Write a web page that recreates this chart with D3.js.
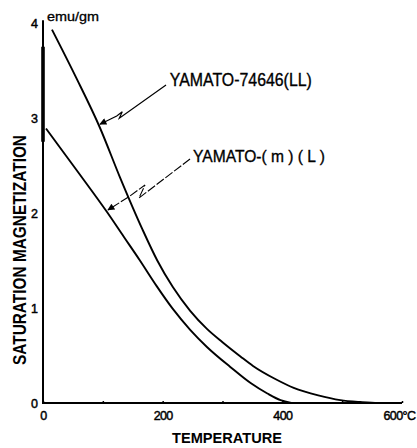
<!DOCTYPE html>
<html><head><meta charset="utf-8">
<script src="https://cdn.jsdelivr.net/npm/d3@7"></script>
<style>
html,body{margin:0;padding:0;background:#fff;}
svg{display:block;}
text{font-family:"Liberation Sans",Arial,sans-serif;fill:#000;}
</style></head>
<body>
<script>
// ---- data ----
const xTickValues = [0, 100, 200, 300, 400, 500, 600];
const xTickLabels = ["0", "", "200", "", "400", "", "600°C"];
const yTickValues = [0, 1, 2, 3, 4];
const yTickLabels = ["0", "1", "2", "3", "4"];

const llTemp = [15, 55, 95, 129, 166, 191, 217, 246, 274, 300, 330, 351, 389, 419, 460, 497, 530, 560, 600];
const llMag  = [3.93, 3.43, 2.9, 2.37, 1.83, 1.5, 1.22, 0.97, 0.78, 0.64, 0.49, 0.39, 0.25, 0.16, 0.08, 0.03, 0.01, 0, 0];

const lTemp = [5, 40, 75, 107, 135, 162, 190, 217, 246, 274, 313, 347, 375, 397, 415];
const lMag  = [2.89, 2.59, 2.29, 2.01, 1.75, 1.5, 1.23, 0.99, 0.77, 0.59, 0.38, 0.21, 0.1, 0.03, 0];

// annotation leader paths (data units: temperature, magnetization)
const llArrowT = [205.6, 127.5, 132.5, 123.2, 95.3];
const llArrowM = [3.347, 2.997, 3.066, 3.021, 2.934];
const lArrowT  = [245.7, 160.4, 170.5, 145.4, 108.6];
const lArrowM  = [2.568, 2.158, 2.295, 2.179, 2.032];

const seriesNames = ["YAMATO-74646(LL)", "YAMATO-( m ) ( L )"];
const yTitle = "SATURATION  MAGNETIZATION";
const xTitle = "TEMPERATURE";
const yUnit = "emu/gm";
const thickAxisRange = [2.75, 3.75];

// ---- chart ----
const W = 417, H = 448;
const svg = d3.select("body").append("svg").attr("width", W).attr("height", H);

const x = d3.scaleLinear().domain([0, 600]).range([43, 402]);
const y = d3.scaleLinear().domain([0, 4]).range([403, 23]);

// axes
const xAxis = d3.axisBottom(x).tickValues(xTickValues)
  .tickFormat((d, i) => xTickLabels[i]).tickSize(-2).tickPadding(8);
const gx = svg.append("g").attr("transform", `translate(0,${y(0)})`).call(xAxis);
gx.select(".domain").attr("d", `M${x(0)},0H${x(600)}`).attr("stroke", "#000").attr("stroke-width", 2);
gx.selectAll(".tick line").attr("stroke", "#000").attr("stroke-width", 1.5);
gx.selectAll(".tick text").attr("font-size", 12.5).attr("fill", "#000")
  .attr("stroke", "#000").attr("stroke-width", 0.45)
  .attr("font-family", '"Liberation Sans",Arial,sans-serif').attr("letter-spacing", -0.6);
gx.selectAll(".tick").filter(d => d === 600).select("text")
  .attr("text-anchor", "start").attr("dx", -19);

const yAxis = d3.axisLeft(y).tickValues(yTickValues)
  .tickFormat((d, i) => yTickLabels[i]).tickSize(0).tickPadding(5);
const gy = svg.append("g").attr("transform", `translate(${x(0)},0)`).call(yAxis);
gy.select(".domain").attr("d", `M0,${y(4.03)}V${y(0) + 1}`).attr("stroke", "#000").attr("stroke-width", 2);
gy.selectAll(".tick text").attr("font-size", 12.5).attr("fill", "#000")
  .attr("stroke", "#000").attr("stroke-width", 0.45)
  .attr("font-family", '"Liberation Sans",Arial,sans-serif');

// thickened part of the vertical axis
svg.append("line")
  .attr("x1", x(0)).attr("x2", x(0))
  .attr("y1", y(thickAxisRange[1])).attr("y2", y(thickAxisRange[0]))
  .attr("stroke", "#000").attr("stroke-width", 3.6);

// curves
const line = d3.line().x(d => x(d[0])).y(d => y(d[1])).curve(d3.curveMonotoneX);
svg.append("path").datum(llTemp.map((t, i) => [t, llMag[i]]))
  .attr("d", line).attr("fill", "none").attr("stroke", "#000").attr("stroke-width", 1.9);
svg.append("path").datum(lTemp.map((t, i) => [t, lMag[i]]))
  .attr("d", line).attr("fill", "none").attr("stroke", "#000").attr("stroke-width", 1.9);

// arrow marker
svg.append("defs").append("marker")
  .attr("id", "ah").attr("viewBox", "0 0 10 10").attr("refX", 9).attr("refY", 5)
  .attr("markerWidth", 9).attr("markerHeight", 7).attr("markerUnits", "userSpaceOnUse")
  .attr("orient", "auto")
  .append("path").attr("d", "M0,0L10,5L0,10z").attr("fill", "#000");

const straight = d3.line().x(d => x(d[0])).y(d => y(d[1]));
svg.append("path").datum(llArrowT.map((t, i) => [t, llArrowM[i]]))
  .attr("d", straight).attr("fill", "none").attr("stroke", "#000").attr("stroke-width", 1.2)
  .attr("marker-end", "url(#ah)");
svg.append("path").datum(lArrowT.map((t, i) => [t, lArrowM[i]]))
  .attr("d", straight).attr("fill", "none").attr("stroke", "#000").attr("stroke-width", 1.1)
  .attr("stroke-dasharray", "9,2").attr("marker-end", "url(#ah)");

// series labels
svg.append("text").attr("x", x(212)).attr("y", y(3.333))
  .attr("font-size", 18).attr("textLength", 142).attr("lengthAdjust", "spacingAndGlyphs")
  .attr("stroke", "#000").attr("stroke-width", 0.35)
  .text(seriesNames[0]);
svg.append("text").attr("x", x(250.7)).attr("y", y(2.537))
  .attr("font-size", 17).attr("textLength", 132).attr("lengthAdjust", "spacingAndGlyphs")
  .attr("stroke", "#000").attr("stroke-width", 0.35)
  .text(seriesNames[1]);

// unit
svg.append("text").attr("x", 47).attr("y", 21)
  .attr("font-size", 12.5).attr("textLength", 52).attr("lengthAdjust", "spacingAndGlyphs")
  .attr("stroke", "#000").attr("stroke-width", 0.3)
  .text(yUnit);

// axis titles
svg.append("text").attr("transform", "translate(26,250) rotate(-90)")
  .attr("text-anchor", "middle").attr("font-size", 18).attr("font-weight", "bold")
  .attr("textLength", 230).attr("lengthAdjust", "spacingAndGlyphs")
  .text(yTitle);
svg.append("text").attr("x", 227).attr("y", 443)
  .attr("text-anchor", "middle").attr("font-size", 15.5).attr("font-weight", "bold")
  .attr("textLength", 110).attr("lengthAdjust", "spacingAndGlyphs")
  .text(xTitle);
</script>
</body></html>
